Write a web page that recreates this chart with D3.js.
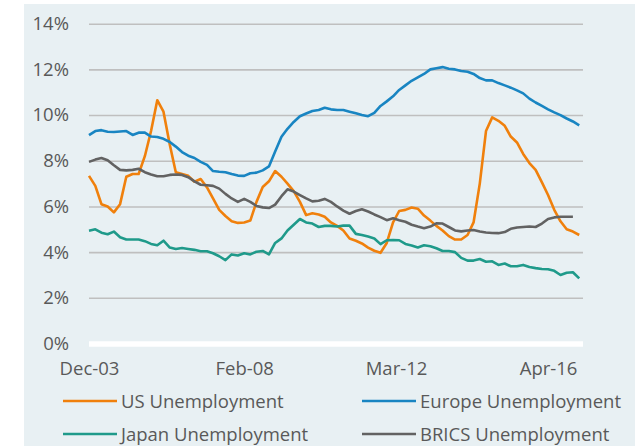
<!DOCTYPE html>
<html>
<head>
<meta charset="utf-8">
<script src="https://cdn.jsdelivr.net/npm/d3@7"></script>
<style>
  body { margin: 0; background: #fff; }
  text { font-family: 'Open Sans', sans-serif; fill: #595959; }
</style>
</head>
<body>
<svg id="chart" width="639" height="446"></svg>
<script>
// bi-monthly readings, Dec-03 .. Feb-17
const startMonth = new Date(2003, 11, 1);
const usRate = [
  7.34, 6.9, 6.1, 6.0, 5.74, 6.1, 7.3, 7.42, 7.42, 8.2,
  9.3, 10.65, 10.15, 8.7, 7.5, 7.42, 7.34, 7.08, 7.2, 6.83,
  6.35, 5.85, 5.58, 5.35, 5.28, 5.3, 5.38, 6.2, 6.85, 7.1,
  7.55, 7.3, 7.0, 6.67, 6.2, 5.62, 5.7, 5.65, 5.55, 5.3,
  5.15, 4.95, 4.6, 4.5, 4.38, 4.2, 4.06, 3.97, 4.4, 5.3,
  5.8, 5.85, 5.95, 5.9, 5.6, 5.38, 5.15, 4.95, 4.7, 4.55,
  4.55, 4.75, 5.3, 7.0, 9.3, 9.9, 9.75, 9.53, 9.06, 8.8,
  8.3, 7.9, 7.6, 7.05, 6.5, 5.85, 5.35, 5.0, 4.9, 4.75
];
const europeRate = [
  9.12, 9.3, 9.34, 9.27, 9.26, 9.28, 9.3, 9.13, 9.23, 9.23,
  9.06, 9.04, 8.96, 8.82, 8.62, 8.38, 8.22, 8.12, 7.95, 7.82,
  7.55, 7.52, 7.5, 7.42, 7.35, 7.34, 7.45, 7.48, 7.58, 7.75,
  8.4, 9.05, 9.4, 9.7, 9.95, 10.07, 10.18, 10.22, 10.32, 10.25,
  10.22, 10.22, 10.15, 10.08, 10.0, 9.95, 10.1, 10.4, 10.6, 10.82,
  11.1, 11.3, 11.5, 11.65, 11.8, 12.0, 12.05, 12.1, 12.03, 12.0,
  11.93, 11.9, 11.8, 11.62, 11.52, 11.52, 11.4, 11.3, 11.2, 11.08,
  10.95, 10.72, 10.55, 10.4, 10.25, 10.12, 10.0, 9.85, 9.72, 9.55
];
const japanRate = [
  4.94, 5.0, 4.85, 4.78, 4.9, 4.65, 4.55, 4.55, 4.55, 4.48,
  4.36, 4.3, 4.5, 4.2, 4.14, 4.18, 4.14, 4.1, 4.04, 4.04,
  3.95, 3.82, 3.65, 3.9, 3.85, 3.95, 3.9, 4.02, 4.05, 3.9,
  4.4, 4.6, 4.95, 5.2, 5.45, 5.3, 5.25, 5.1, 5.15, 5.15,
  5.12, 5.16, 5.16, 4.8, 4.75, 4.68, 4.6, 4.35, 4.52, 4.53,
  4.52, 4.36, 4.29, 4.2, 4.3, 4.26, 4.17, 4.05, 4.05, 4.0,
  3.75, 3.63, 3.63, 3.7, 3.58, 3.6, 3.44, 3.5, 3.38, 3.38,
  3.44, 3.35, 3.3, 3.26, 3.25, 3.18, 3.0, 3.1, 3.12, 2.85
];
const bricsRate = [
  7.95, 8.05, 8.12, 8.02, 7.8, 7.6, 7.58, 7.6, 7.65, 7.5,
  7.4, 7.32, 7.32, 7.38, 7.4, 7.38, 7.28, 7.1, 6.95, 6.93,
  6.9, 6.78, 6.55, 6.35, 6.2, 6.33, 6.2, 6.02, 5.96, 5.93,
  6.08, 6.45, 6.75, 6.65, 6.5, 6.35, 6.22, 6.25, 6.33, 6.2,
  6.0, 5.82, 5.68, 5.8, 5.88, 5.78, 5.65, 5.53, 5.4, 5.48,
  5.4, 5.33, 5.2, 5.12, 5.05, 5.12, 5.26, 5.25, 5.1, 4.95,
  4.91, 4.95, 4.97, 4.9, 4.86, 4.84, 4.83, 4.88, 5.02, 5.08,
  5.1, 5.12, 5.1, 5.25, 5.45, 5.52, 5.55, 5.55, 5.55, null
];
const tickLabels = ['Dec-03', 'Feb-08', 'Mar-12', 'Apr-16'];
const yTicks = [0, 2, 4, 6, 8, 10, 12, 14];

const seriesNames = ['US Unemployment', 'Europe Unemployment', 'Japan Unemployment', 'BRICS Unemployment'];
const seriesColors = ['#f0800c', '#1985c2', '#1f9a8a', '#626262'];
const seriesValues = [usRate, europeRate, japanRate, bricsRate];

const months = usRate.map((d, i) => d3.timeMonth.offset(startMonth, i * 2));
const parseTick = d3.timeParse('%b-%y');
const tickDates = tickLabels.map(parseTick);

const svg = d3.select('#chart');
svg.append('rect').attr('x', 24).attr('y', 4).attr('width', 611).attr('height', 442).attr('fill', '#e8f0f3');

const x = d3.scaleTime()
  .domain([startMonth, new Date(2017, 2, 10)])
  .range([89, 583]);
const y = d3.scaleLinear().domain([0, 14]).range([343.5, 23.7]);

// gridlines + y labels
const yAxis = svg.append('g')
  .attr('transform', 'translate(89,0)')
  .call(d3.axisLeft(y).tickValues(yTicks).tickSize(-494).tickPadding(20).tickFormat(d => d + '%'));
yAxis.select('.domain').remove();
yAxis.selectAll('line').attr('stroke', '#bfbfbf').attr('stroke-width', 1.6);
yAxis.selectAll('.tick').filter(d => d === 0).select('line').attr('stroke', '#fff').attr('stroke-width', 5.5);
yAxis.selectAll('text').attr('font-size', 18.5).attr('fill', '#595959').attr('font-family', "'Open Sans', sans-serif");

// x labels
const xAxis = svg.append('g')
  .attr('transform', 'translate(0,343.5)')
  .call(d3.axisBottom(x).tickValues(tickDates).tickSize(0).tickPadding(18).tickFormat(d3.timeFormat('%b-%y')));
xAxis.select('.domain').remove();
xAxis.selectAll('text').attr('font-size', 18.5).attr('fill', '#595959').attr('font-family', "'Open Sans', sans-serif");

const line = d3.line()
  .defined(d => d.v != null)
  .x(d => x(d.date))
  .y(d => y(d.v));

seriesValues.forEach((vals, k) => {
  svg.append('path')
    .datum(vals.map((v, i) => ({date: months[i], v: v})))
    .attr('fill', 'none')
    .attr('stroke', seriesColors[k])
    .attr('stroke-width', 2.6)
    .attr('stroke-linejoin', 'round')
    .attr('d', line);
});

// legend
const legendPos = [[63, 401], [362, 401], [63, 434], [362, 434]];
const legend = svg.selectAll('.legend')
  .data(seriesNames)
  .enter().append('g')
  .attr('class', 'legend')
  .attr('transform', (d, i) => 'translate(' + legendPos[i][0] + ',' + legendPos[i][1] + ')');
legend.append('line')
  .attr('x1', 0).attr('x2', 54)
  .attr('stroke', (d, i) => seriesColors[i])
  .attr('stroke-width', 2.6);
legend.append('text')
  .attr('x', 58)
  .attr('y', 6.5)
  .attr('font-size', 18.5)
  .text(d => d);
</script>
</body>
</html>
